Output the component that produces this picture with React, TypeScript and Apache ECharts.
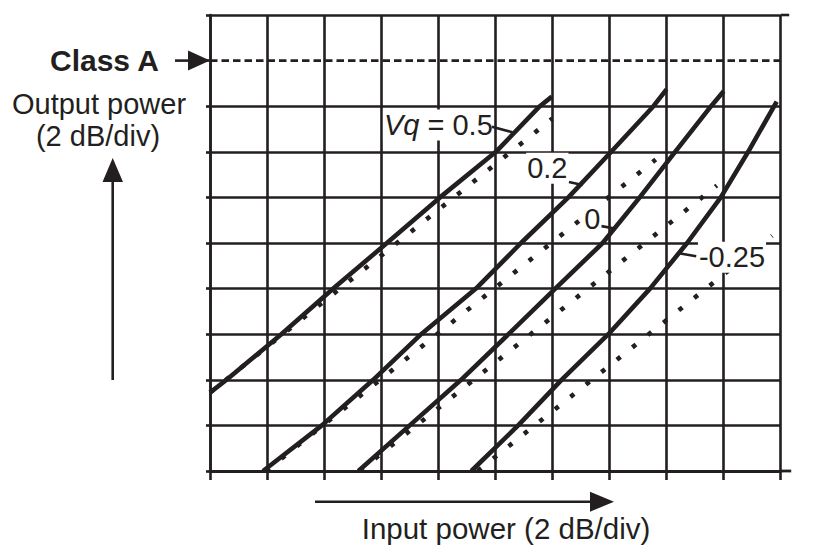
import React, { useEffect, useRef } from "react";
import * as echarts from "echarts";

// ---- data (axis units: 1 unit = 1 division = 2 dB) ----
const xTickValues = [0, 1, 2, 3, 4, 5, 6, 7, 8, 9, 10];
const yTickValues = [0, 1, 2, 3, 4, 5, 6, 7, 8, 9, 10];
const classALevel = 9;

// measured (solid) curves
const vq05X = [0, 0.29, 1.25, 2.16, 3.1, 4.03, 5.01, 5.78, 5.99];
const vq05Y = [1.72, 2, 3, 4, 5, 6, 7, 8, 8.21];
const vq02X = [0.93, 1.96, 2.86, 3.7, 4.66, 5.45, 6.28, 7.03, 7.77, 8.0];
const vq02Y = [0, 1, 2, 3, 4, 5, 6, 7, 8, 8.37];
const vq0X = [2.6, 3.5, 4.4, 5.23, 6.05, 6.88, 7.53, 8.15, 8.78, 9.0];
const vq0Y = [0, 1, 2, 3, 4, 5, 6, 7, 8, 8.33];
const vqm025X = [4.58, 5.4, 6.16, 6.98, 7.71, 8.36, 8.95, 9.43, 9.93];
const vqm025Y = [0, 1, 2, 3, 4, 5, 6, 7, 8.1];

// linear (dotted) references
const lin05X = [0, 6.0];
const lin05Y = [1.72, 7.73];
const lin02X = [0.98, 7.81];
const lin02Y = [0, 6.83];
const lin0X = [2.62, 8.88];
const lin0Y = [0, 6.26];
const linm025X = [4.69, 9.85];
const linm025Y = [0, 5.16];

// curve labels
const curveLabels = ["{i|Vq} = 0.5", "0.2", "0", "-0.25"];

const INK = "#231f20";
const FONT = '"Liberation Sans", Arial, Helvetica, sans-serif';

const zip = (xs: number[], ys: number[]) => xs.map((x, i) => [x, ys[i]]);

export default function App() {
  const ref = useRef<HTMLDivElement>(null);

  useEffect(() => {
    if (!ref.current) return;
    const chart = echarts.init(ref.current, undefined, { renderer: "svg" });

    const solid = (name: string, xs: number[], ys: number[]) => ({
      name,
      type: "line",
      data: zip(xs, ys),
      showSymbol: false,
      smooth: false,
      lineStyle: { color: INK, width: 4.6, cap: "butt", join: "round" },
      z: 5,
    });
    const dotted = (name: string, xs: number[], ys: number[]) => ({
      name,
      type: "line",
      data: zip(xs, ys),
      showSymbol: false,
      lineStyle: { color: INK, width: 4.6, type: [4.6, 15.2], cap: "butt" },
      z: 4,
    });

    const splitColors = yTickValues.map((v) => (v === classALevel ? "rgba(0,0,0,0)" : INK));

    chart.setOption({
      animation: false,
      grid: { left: 210, right: 57.3, top: 15, bottom: 81, containLabel: false },
      xAxis: {
        type: "value",
        min: xTickValues[0],
        max: xTickValues[xTickValues.length - 1],
        interval: 1,
        axisLine: { show: true, lineStyle: { color: INK, width: 2.8 } },
        axisTick: { show: true, inside: false, length: 9, lineStyle: { color: INK, width: 2.6 } },
        axisLabel: { show: false },
        splitLine: { show: true, lineStyle: { color: INK, width: 2.6 } },
      },
      yAxis: {
        type: "value",
        min: yTickValues[0],
        max: yTickValues[yTickValues.length - 1],
        interval: 1,
        axisLine: { show: true, lineStyle: { color: INK, width: 2.6 } },
        axisTick: { show: true, inside: false, length: 4, lineStyle: { color: INK, width: 2.6 } },
        axisLabel: { show: false },
        splitLine: { show: true, lineStyle: { color: splitColors, width: 2.6 } },
      },
      series: [
        {
          name: "Class A",
          type: "line",
          data: [
            [xTickValues[0], classALevel],
            [xTickValues[xTickValues.length - 1], classALevel],
          ],
          showSymbol: false,
          lineStyle: { color: INK, width: 2.8, type: [7.5, 4] },
          z: 3,
        },
        dotted("lin 0.5", lin05X, lin05Y),
        dotted("lin 0.2", lin02X, lin02Y),
        dotted("lin 0", lin0X, lin0Y),
        dotted("lin -0.25", linm025X, linm025Y),
        solid("Vq 0.5", vq05X, vq05Y),
        solid("Vq 0.2", vq02X, vq02Y),
        solid("Vq 0", vq0X, vq0Y),
        solid("Vq -0.25", vqm025X, vqm025Y),
      ],
    });

    const px = (p: number[]) => chart.convertToPixel({ gridIndex: 0 }, p) as number[];

    // label anchors (left edge, vertical middle) and leader lines in axis units
    const labelAnchors = [
      [3.03, 7.59],
      [5.54, 6.64],
      [6.54, 5.53],
      [8.55, 4.69],
    ];
    const leaders = [
      [[4.94, 7.55], [5.3, 7.43]],
      [[6.29, 6.34], [6.53, 6.27]],
      [[6.86, 5.37], [7.09, 5.32]],
      [[8.24, 4.77], [8.52, 4.71]],
    ];

    const tr = px([10, 10]);
    const br = px([10, 0]);

    const graphics: any[] = [];
    graphics.push({
      type: "line",
      shape: { x1: tr[0], y1: tr[1], x2: tr[0] + 8.5, y2: tr[1] },
      style: { stroke: INK, lineWidth: 2.6 },
      z: 10,
    });
    graphics.push({
      type: "line",
      shape: { x1: br[0], y1: br[1], x2: br[0] + 10.5, y2: br[1] },
      style: { stroke: INK, lineWidth: 2.8 },
      z: 10,
    });

    curveLabels.forEach((t, i) => {
      const p = px(labelAnchors[i]);
      graphics.push({
        type: "text",
        x: p[0],
        y: p[1],
        z: 20,
        style: {
          text: t,
          fill: INK,
          fontSize: 29,
          fontFamily: FONT,
          align: "left",
          verticalAlign: "middle",
          backgroundColor: "#fff",
          padding: [1, 1],
          rich: {
            i: { fontSize: 29, fontFamily: FONT, fontStyle: "italic", fill: INK },
          },
        },
      });
      const a = px(leaders[i][0]);
      const b = px(leaders[i][1]);
      graphics.push({
        type: "line",
        z: 21,
        shape: { x1: a[0], y1: a[1], x2: b[0], y2: b[1] },
        style: { stroke: INK, lineWidth: 2.6 },
      });
    });

    const ca = px([0, classALevel]);
    graphics.push({
      type: "text",
      x: 50,
      y: ca[1],
      style: {
        text: "Class A",
        fill: INK,
        fontSize: 30,
        fontWeight: "bold",
        fontFamily: FONT,
        align: "left",
        verticalAlign: "middle",
      },
    });
    graphics.push({
      type: "line",
      shape: { x1: 175, y1: ca[1], x2: ca[0] - 15, y2: ca[1] },
      style: { stroke: INK, lineWidth: 2.6 },
    });
    graphics.push({
      type: "polygon",
      shape: { points: [[ca[0] - 22, ca[1] - 10], [ca[0], ca[1]], [ca[0] - 22, ca[1] + 10]] },
      style: { fill: INK },
      z: 12,
    });

    graphics.push({
      type: "text",
      x: 99,
      y: 104,
      style: { text: "Output power", fill: INK, fontSize: 29, fontFamily: FONT, align: "center", verticalAlign: "middle" },
    });
    graphics.push({
      type: "text",
      x: 98,
      y: 136,
      style: { text: "(2 dB/div)", fill: INK, fontSize: 29, fontFamily: FONT, align: "center", verticalAlign: "middle" },
    });
    graphics.push({
      type: "line",
      shape: { x1: 112.7, y1: 380, x2: 112.7, y2: 178 },
      style: { stroke: INK, lineWidth: 2.6 },
    });
    graphics.push({
      type: "polygon",
      shape: { points: [[102.5, 182], [112.7, 158], [123, 182]] },
      style: { fill: INK },
    });

    graphics.push({
      type: "text",
      x: 506,
      y: 528,
      style: { text: "Input power (2 dB/div)", fill: INK, fontSize: 29.5, fontFamily: FONT, align: "center", verticalAlign: "middle" },
    });
    graphics.push({
      type: "line",
      shape: { x1: 315, y1: 501.7, x2: 594, y2: 501.7 },
      style: { stroke: INK, lineWidth: 2.6 },
    });
    graphics.push({
      type: "polygon",
      shape: { points: [[590, 491.7], [614, 501.7], [590, 511.7]] },
      style: { fill: INK },
    });

    chart.setOption({ graphic: graphics });

    return () => chart.dispose();
  }, []);

  return (
    <div
      ref={ref}
      style={{ position: "fixed", left: 0, top: 0, width: 838, height: 552, background: "#fff" }}
    />
  );
}
